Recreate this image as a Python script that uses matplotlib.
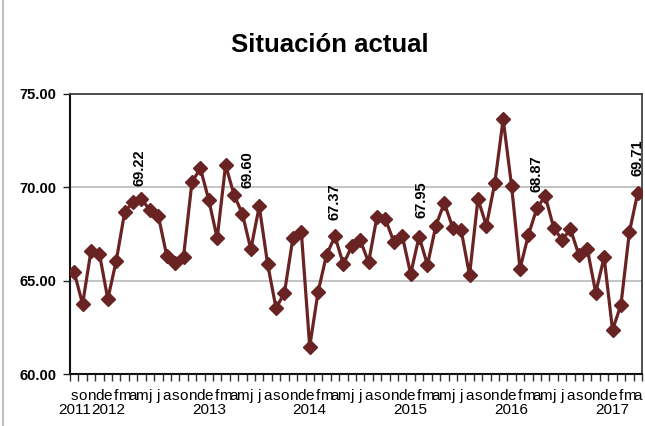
import matplotlib
matplotlib.use('Agg')
import matplotlib.pyplot as plt
import numpy as np
from matplotlib.lines import Line2D

# monthly index, Sep 2011 .. Apr 2017
months = ['s', 'o', 'n', 'd'] + ['e', 'f', 'm', 'a', 'm', 'j', 'j', 'a', 's', 'o', 'n', 'd'] * 5 + ['e', 'f', 'm', 'a']
years = {0: '2011', 4: '2012', 16: '2013', 28: '2014', 40: '2015', 52: '2016', 64: '2017'}

values = [65.45, 63.75, 66.60, 66.43, 64.02, 66.07, 68.66, 69.22, 69.37, 68.78, 68.48, 66.34,
          65.97, 66.29, 70.27, 71.02, 69.32, 67.27, 71.19, 69.60, 68.57, 66.68, 68.98, 65.88,
          63.52, 64.36, 67.27, 67.62, 61.47, 64.41, 66.38, 67.37, 65.88, 66.84, 67.18, 65.98,
          68.43, 68.29, 67.09, 67.41, 65.36, 67.36, 65.84, 67.95, 69.16, 67.84, 67.71, 65.30,
          69.37, 67.95, 70.21, 73.64, 70.07, 65.63, 67.45, 68.87, 69.53, 67.84, 67.18, 67.75,
          66.38, 66.70, 64.36, 66.25, 62.36, 63.70, 67.59, 69.71]

# points labelled with their value (every April)
labelled = [7, 19, 31, 43, 55, 67]

col = '#6a2323'
fig = plt.figure(figsize=(6.45, 4.26), dpi=100)
ax = fig.add_axes([0.1085, 0.122, 0.8868, 0.6576])

x = np.arange(len(values))
ax.plot(x, values, color=col, lw=2.3, marker='D', markersize=7.5, zorder=3)

# label placement offsets in pixels, hand-moved like in the original sheet
offs = {7: (6, 16), 19: (13, 7), 31: (0, 16), 43: (-14, 8), 55: (0, 16), 67: (0, 17)}
for i in labelled:
    ax.annotate('%.2f' % values[i], (x[i], values[i]), xytext=offs[i], textcoords='offset pixels',
                rotation=90, ha='center', va='bottom', fontsize=10.5, fontweight='bold',
                family='Liberation Sans')

ax.set_ylim(60, 75)
ax.set_yticks([60, 65, 70, 75])
ax.set_yticklabels(['%.2f' % v for v in [60, 65, 70, 75]], fontsize=10.5, fontweight='bold',
                   family='Liberation Sans')
ax.yaxis.grid(True, color='#bfbfbf', lw=1.3)
ax.set_axisbelow(True)

ax.set_xlim(-0.5, len(values) - 0.5)
labels = [m + ('\n' + years[i] if i in years else '') for i, m in enumerate(months)]
ax.set_xticks(x)
ax.set_xticklabels(labels, fontsize=11, family='Liberation Sans', linespacing=0.95, va='top')
ax.set_xticks(np.arange(-0.5, len(values)), minor=True)
ax.tick_params(axis='x', which='major', length=0, pad=11)
ax.tick_params(axis='x', which='minor', length=5, width=1, direction='out', color='#333333')
ax.tick_params(axis='y', length=5, width=1, color='#222222', pad=5)

for s in ['left', 'bottom']:
    ax.spines[s].set_color('#111111')
    ax.spines[s].set_linewidth(1.5)
for s in ['top', 'right']:
    ax.spines[s].set_color('#404040')
    ax.spines[s].set_linewidth(1.3)

fig.text(0.512, 0.894, 'Situación actual', ha='center', va='center', fontsize=18.5,
         fontweight='bold', family='Liberation Sans')
fig.add_artist(Line2D([0.005, 0.005], [0, 1], transform=fig.transFigure, color='#bfbfbf', lw=1.5))

fig.savefig('out.png', dpi=100)
